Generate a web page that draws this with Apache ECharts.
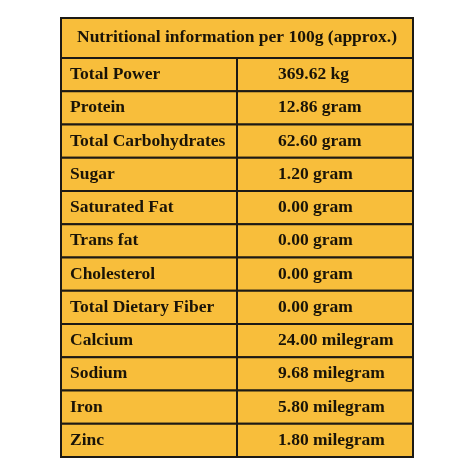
<!DOCTYPE html><html><head><meta charset="utf-8">
<script src="https://cdn.jsdelivr.net/npm/echarts@6/dist/echarts.min.js"></script>
<style>html,body{margin:0;background:#fff}#c{width:474px;height:474px}</style></head><body><div id="c"></div>
<script>
const title = 'Nutritional information per 100g (approx.)';
const nutrients = ['Total Power','Protein','Total Carbohydrates','Sugar','Saturated Fat','Trans fat','Cholesterol','Total Dietary Fiber','Calcium','Sodium','Iron','Zinc'];
const amounts = ['369.62 kg','12.86 gram','62.60 gram','1.20 gram','0.00 gram','0.00 gram','0.00 gram','0.00 gram','24.00 milegram','9.68 milegram','5.80 milegram','1.80 milegram'];
const HEADER_SPAN = 1.2;
const data = [[-HEADER_SPAN, 0, title, '']].concat(nutrients.map((n,i)=>[i, i+1, n, amounts[i]]));
const FONT = 'bold 17.5px "Liberation Serif", serif';
const chart = echarts.init(document.getElementById('c'));
chart.setOption({
  animation:false,
  grid:{left:61,right:61,top:18,bottom:17},
  xAxis:{type:'value',min:0,max:1,show:false},
  yAxis:{type:'value',min:-HEADER_SPAN,max:nutrients.length,inverse:true,show:false},
  series:[{type:'custom',data:data,renderItem:function(params,api){
    const a=api.value(0), b=api.value(1);
    const p0=api.coord([0,a]), p1=api.coord([1,b]);
    const x0=p0[0], x1=p1[0], y=p0[1], h=p1[1]-p0[1], yc=y+h/2;
    const split=x0+176;
    const header = params.dataIndex===0;
    const ch=[{type:'rect',shape:{x:x0,y:y,width:x1-x0,height:h},style:{fill:'#F8BE3B',stroke:'#1c1a15',lineWidth:2}}];
    if(header){
      ch.push({type:'text',style:{text:api.value(2),x:(x0+x1)/2,y:yc,align:'center',verticalAlign:'middle',font:FONT,fill:'#1a1408'}});
    } else {
      ch.push({type:'line',shape:{x1:split,y1:y,x2:split,y2:y+h},style:{stroke:'#1c1a15',lineWidth:2}});
      ch.push({type:'text',style:{text:api.value(2),x:x0+9,y:yc,align:'left',verticalAlign:'middle',font:FONT,fill:'#1a1408'}});
      ch.push({type:'text',style:{text:api.value(3),x:split+41,y:yc,align:'left',verticalAlign:'middle',font:FONT,fill:'#1a1408'}});
    }
    return {type:'group',children:ch};
  }}]
});
</script></body></html>
